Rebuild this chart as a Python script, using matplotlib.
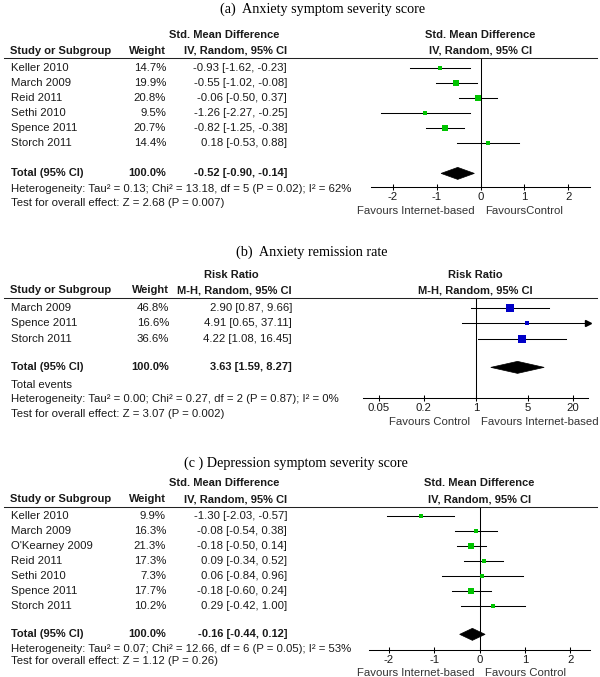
import numpy as np
import matplotlib
matplotlib.use("Agg")
import matplotlib.pyplot as plt
from matplotlib import transforms
from matplotlib.patches import Polygon
from matplotlib.lines import Line2D
from matplotlib.ticker import NullLocator

# (a) Anxiety symptom severity score - std. mean difference
a_study = ["Keller 2010", "March 2009", "Reid 2011", "Sethi 2010", "Spence 2011", "Storch 2011"]
a_weight = [14.7, 19.9, 20.8, 9.5, 20.7, 14.4]
a_est = [-0.93, -0.55, -0.06, -1.26, -0.82, 0.18]
a_lo = [-1.62, -1.02, -0.50, -2.27, -1.25, -0.53]
a_hi = [-0.23, -0.08, 0.37, -0.25, -0.38, 0.88]
a_total = [-0.52, -0.90, -0.14]
a_het = "Heterogeneity: Tau\u00b2 = 0.13; Chi\u00b2 = 13.18, df = 5 (P = 0.02); I\u00b2 = 62%"
a_test = "Test for overall effect: Z = 2.68 (P = 0.007)"
a_ticks = [-2, -1, 0, 1, 2]
a_favours = ["Favours Internet-based", "FavoursControl"]

# (b) Anxiety remission rate - risk ratio
b_study = ["March 2009", "Spence 2011", "Storch 2011"]
b_weight = [46.8, 16.6, 36.6]
b_est = [2.90, 4.91, 4.22]
b_lo = [0.87, 0.65, 1.08]
b_hi = [9.66, 37.11, 16.45]
b_total = [3.63, 1.59, 8.27]
b_het = "Heterogeneity: Tau\u00b2 = 0.00; Chi\u00b2 = 0.27, df = 2 (P = 0.87); I\u00b2 = 0%"
b_test = "Test for overall effect: Z = 3.07 (P = 0.002)"
b_ticks = [0.05, 0.2, 1, 5, 20]
b_ticklabels = ["0.05", "0.2", "1", "5", "20"]
b_favours = ["Favours Control", "Favours Internet-based"]

# (c) Depression symptom severity score - std. mean difference
c_study = ["Keller 2010", "March 2009", "O'Kearney 2009", "Reid 2011", "Sethi 2010",
           "Spence 2011", "Storch 2011"]
c_weight = [9.9, 16.3, 21.3, 17.3, 7.3, 17.7, 10.2]
c_est = [-1.30, -0.08, -0.18, 0.09, 0.06, -0.18, 0.29]
c_lo = [-2.03, -0.54, -0.50, -0.34, -0.84, -0.60, -0.42]
c_hi = [-0.57, 0.38, 0.14, 0.52, 0.96, 0.24, 1.00]
c_total = [-0.16, -0.44, 0.12]
c_het = "Heterogeneity: Tau\u00b2 = 0.07; Chi\u00b2 = 12.66, df = 6 (P = 0.05); I\u00b2 = 53%"
c_test = "Test for overall effect: Z = 1.12 (P = 0.26)"
c_ticks = [-2, -1, 0, 1, 2]
c_favours = ["Favours Internet-based", "Favours Control"]

W, H = 600, 677
SANS = "Liberation Sans"
SERIF = "Liberation Serif"
FS = 8.2     # regular table text
FSB = 8.0    # bold headings
INK = "#1a1a1a"
LW = 0.75

fig = plt.figure(figsize=(W / 100, H / 100), dpi=100)


def fx(px):
    return px / W


def fy(py):
    return 1 - py / H


def forest(title, title_pos, box, rows, study, weight, est, lo, hi, total, notes,
           head1, head2, cols, xlim, ticks, ticklabels, favours, color,
           log=False, total_row=7, head1_x=224):
    left, right, top, bottom = box
    row0, step = rows
    ax = fig.add_axes([fx(left), fy(bottom), fx(right) - fx(left), (bottom - top) / H])
    ax.set_ylim((bottom - row0) / step, (top - row0) / step)
    if log:
        ax.set_xscale("log")
    ax.set_xlim(*xlim)
    null = 1.0 if log else 0.0

    # title
    fig.text(fx(title_pos[0]), fy(title_pos[1]), title, family=SERIF, fontsize=10.2,
             ha="left", va="center", color="black")

    # header rule and column headings
    fig.add_artist(Line2D([fx(4), fx(597)], [fy(top), fy(top)], color="#222222",
                          lw=LW, transform=fig.transFigure))
    wx, cx = cols
    hb = dict(family=SANS, fontsize=FSB, fontweight="bold", color=INK, va="center")
    fig.text(fx(head1_x), fy(top - 23.5), head1, ha="center", **hb)
    fig.text(fx(10), fy(top - 7.5), "Study or Subgroup", ha="left", **hb)
    fig.text(fx(wx), fy(top - 7.5), "Weight", ha="right", **hb)
    fig.text(fx(cx), fy(top - 7.5), head2, ha="right", **hb)
    tr_top = transforms.blended_transform_factory(ax.transAxes, fig.transFigure)
    ax.text(0.5, fy(top - 23.5), head1, ha="center", transform=tr_top, **hb)
    ax.text(0.5, fy(top - 7.5), head2, ha="center", transform=tr_top, **hb)

    # study rows
    tr = transforms.blended_transform_factory(fig.transFigure, ax.transData)
    tn = dict(family=SANS, fontsize=FS, color=INK, va="center", transform=tr)
    y = np.arange(len(study))
    for i in range(len(study)):
        fig.text(fx(11), y[i], study[i], ha="left", **tn)
        fig.text(fx(wx), y[i], f"{weight[i]:.1f}%", ha="right", **tn)
        fig.text(fx(cx), y[i], f"{est[i]:.2f} [{lo[i]:.2f}, {hi[i]:.2f}]", ha="right", **tn)
        x0, x1 = xlim
        if hi[i] > x1:
            ax.plot([lo[i], x1], [y[i], y[i]], color="black", lw=LW, zorder=2)
            ax.plot([x1], [y[i]], marker=">", ms=4, color="black", clip_on=False, zorder=2)
        else:
            ax.plot([lo[i], hi[i]], [y[i], y[i]], color="black", lw=LW, zorder=2)
        ax.plot(est[i], y[i], marker="s", ms=0.86 * np.sqrt(weight[i]), color=color,
                mec=color, mew=0, ls="none", zorder=3)

    # pooled row
    te, tl, th = total
    tb = dict(tn, fontweight="bold", fontsize=FSB)
    fig.text(fx(11), total_row, "Total (95% CI)", ha="left", **tb)
    fig.text(fx(wx), total_row, f"{sum(weight):.1f}%", ha="right", **tb)
    fig.text(fx(cx), total_row, f"{te:.2f} [{tl:.2f}, {th:.2f}]", ha="right", **tb)
    hh = 6.0 / step
    ax.add_patch(Polygon([(tl, total_row), (te, total_row - hh), (th, total_row),
                          (te, total_row + hh)], closed=True, fc="black", ec="black",
                         lw=0.5, zorder=3))
    for r, s in notes:
        fig.text(fx(11), r, s, ha="left", **tn)

    # axis
    ax.axvline(null, color="black", lw=LW, zorder=1)
    for s in ["left", "top", "right"]:
        ax.spines[s].set_visible(False)
    ax.spines["bottom"].set_linewidth(LW)
    ax.set_yticks([])
    ax.set_xticks(ticks)
    ax.set_xticklabels(ticklabels)
    ax.xaxis.set_minor_locator(NullLocator())
    ax.tick_params(axis="x", direction="inout", length=4.5, width=LW, pad=1.0,
                   labelsize=FS, labelcolor=INK)
    for lab in ax.get_xticklabels():
        lab.set_family(SANS)
    fv = dict(xycoords=("data", "axes fraction"), textcoords="offset points",
              va="center", fontsize=FS, family=SANS, color="#333333")
    ax.annotate(favours[0], xy=(null, 0), xytext=(-5.5 * 0.72, -23.5 * 0.72), ha="right", **fv)
    ax.annotate(favours[1], xy=(null, 0), xytext=(5.0 * 0.72, -23.5 * 0.72), ha="left", **fv)
    ax.patch.set_alpha(0)
    return ax


GREEN = "#00c400"
BLUE = "#0000c8"

forest("(a)  Anxiety symptom severity score", (220, 9), (371, 590, 58.3, 187.3), (67.7, 15.1),
       a_study, a_weight, a_est, a_lo, a_hi, a_total,
       [(8.05, a_het), (8.94, a_test)],
       "Std. Mean Difference", "IV, Random, 95% CI", (166, 287),
       (-2.5, 2.5), a_ticks, [str(t) for t in a_ticks], a_favours, GREEN,
       total_row=7, head1_x=224)

forest("(b)  Anxiety remission rate", (236, 252), (363.3, 588.3, 298, 398.3), (307.7, 15.5),
       b_study, b_weight, b_est, b_lo, b_hi, b_total,
       [(4.97, "Total events"), (5.9, b_het), (6.87, b_test)],
       "Risk Ratio", "M-H, Random, 95% CI", (169, 292),
       (10 ** -1.51, 10 ** 1.51), b_ticks, b_ticklabels, b_favours, BLUE,
       log=True, total_row=3.85, head1_x=231.5)

forest("(c ) Depression symptom severity score", (184, 463), (369.3, 590, 506.7, 650), (516, 15.0),
       c_study, c_weight, c_est, c_lo, c_hi, c_total,
       [(8.9, c_het), (9.7, c_test)],
       "Std. Mean Difference", "IV, Random, 95% CI", (166, 287),
       (-2.43, 2.43), c_ticks, [str(t) for t in c_ticks], c_favours, GREEN,
       total_row=7.89, head1_x=224)

fig.savefig("out.png", dpi=100)
